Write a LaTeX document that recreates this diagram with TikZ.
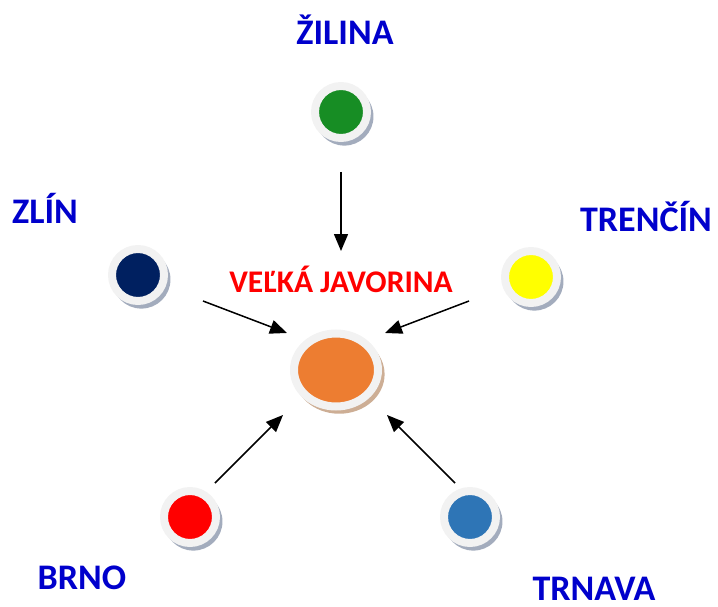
\documentclass[tikz,border=0pt]{standalone}
\usepackage{fontspec}
\setmainfont{Carlito}
\usetikzlibrary{arrows.meta,shapes.geometric,shadows}

\definecolor{cityBlue}{HTML}{0000CC}
\definecolor{titleRed}{HTML}{FF0000}
\definecolor{ringGray}{HTML}{F2F2F2}
\definecolor{shadowGray}{HTML}{A3ACBD}
\definecolor{shadowBrown}{HTML}{CDAE95}
\definecolor{zilinaGreen}{HTML}{178D24}
\definecolor{zlinNavy}{HTML}{002060}
\definecolor{trencinYellow}{HTML}{FFFF00}
\definecolor{brnoRed}{HTML}{FF0000}
\definecolor{trnavaBlue}{HTML}{2E75B6}
\definecolor{javorinaOrange}{HTML}{ED7D31}

\begin{document}
\begin{tikzpicture}
[x=1pt,y=-1pt,
  lineDecorate/.style={-{Triangle[length=17pt,width=14pt]},line width=1.5pt},%
  nodeDecorate/.style={shape=circle,inner sep=0pt,minimum size=52pt,draw=ringGray,line width=8pt,
    drop shadow={shadow xshift=3pt,shadow yshift=-4pt,shadow scale=1.12,fill=shadowGray,opacity=1}},%
  centerDecorate/.style={shape=ellipse,inner sep=0pt,minimum width=84pt,minimum height=73pt,
    draw=ringGray,line width=8pt,fill=javorinaOrange,
    drop shadow={shadow xshift=3pt,shadow yshift=-4pt,shadow scale=1.08,fill=shadowBrown,opacity=1}},%
  labelDecorate/.style={anchor=base,inner sep=0pt,text=cityBlue,font=\fontsize{36}{36}\selectfont\bfseries},%
  titleDecorate/.style={anchor=base,inner sep=0pt,text=titleRed,font=\fontsize{31.5}{31.5}\selectfont\bfseries}]
\useasboundingbox (0,0) rectangle (718,607);
%% circles of the towns
\foreach \nodename/\x/\y/\col in {zilina/341/112/zilinaGreen, zlin/138/275/zlinNavy,
  trencin/531/277/trencinYellow, brno/190/517/brnoRed, trnava/470/517/trnavaBlue}
{
  \node (\nodename) at (\x,\y) [nodeDecorate,fill=\col] {};
}
\node (javorina) at (336,370) [centerDecorate] {};
%% names
\foreach \labelname/\x/\y/\txt in {zilinaText/345/45/ŽILINA, zlinText/45/223/ZLÍN,
  trencinText/646/232/TRENČÍN, brnoText/82/589/BRNO, trnavaText/594/600/TRNAVA}
{
  \node (\labelname) at (\x,\y) [labelDecorate] {\txt};
}
\node (javorinaText) at (341,292) [titleDecorate] {VEĽKÁ JAVORINA};
%% arrow ends
\foreach \pointname/\x/\y in {zilinaTail/341/172, zilinaTip/341/251, zlinTail/203/301, zlinTip/287/333,
  trencinTail/469/301, trencinTip/385/333, brnoTail/215/483, brnoTip/283/415,
  trnavaTail/455/483, trnavaTip/387/415}
{
  \coordinate (\pointname) at (\x,\y);
}
%% arrows
\path
\foreach \startnode/\endnode in {
  zilinaTail/zilinaTip, zlinTail/zlinTip, trencinTail/trencinTip, brnoTail/brnoTip, trnavaTail/trnavaTip}
{
  (\startnode) edge[lineDecorate] (\endnode)
};
\end{tikzpicture}
\end{document}
